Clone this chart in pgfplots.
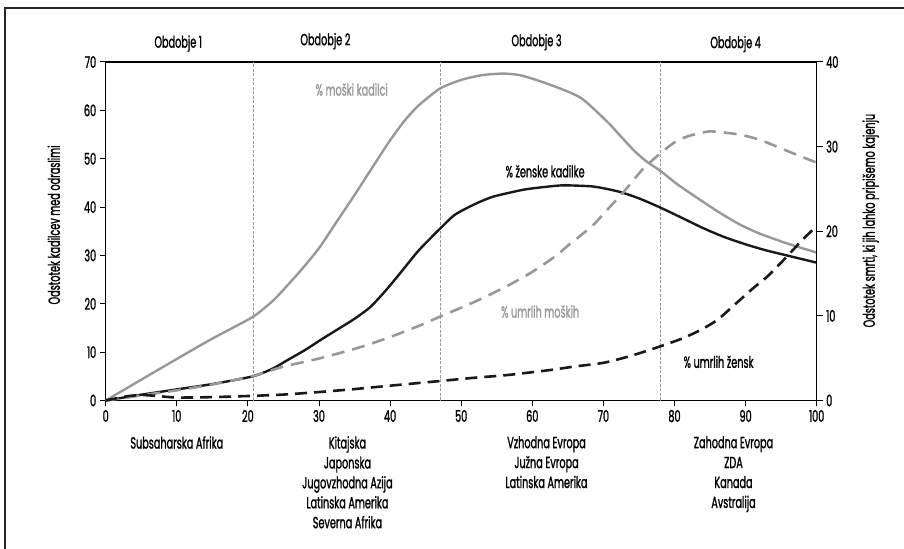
\documentclass[border=0pt]{standalone}
\usepackage{pgfplots}
\pgfplotsset{compat=1.18}
\usepackage{pgfplotstable}
\usepackage{fontspec}
\setmainfont[FakeStretch=0.6, FakeBold=1.2]{Poppins}
\definecolor{lg}{RGB}{152,152,152}
\newcommand\f{\fontsize{16.2}{20}\selectfont}

\pgfplotstableread{
x y
0 0
5 4.3
10 8.6
15 12.8
20.7 17.3
23.5 20.6
25 22.9
27.5 27
30 31.5
32.5 37.0
35 42.5
37.5 48.2
40 53.8
42 57.8
44 61
47 64.5
50 66.3
53 67.3
56 67.6
58.5 67.2
62.5 65.3
66.8 62.6
70.5 57.7
72.4 54.7
74.3 51.7
76 49.5
78 47.5
80.5 44.6
83.6 41.5
86.5 38.7
89.3 36.3
92 34.5
95 32.9
97.5 31.7
100 30.6
}\malesmk

\pgfplotstableread{
x y
0 0
5 1.2
10 2.3
15 3.4
20.7 5.0
23.5 6.6
25.5 8.3
28 10.4
30.2 12.5
32.5 14.6
35 16.9
37.2 19.3
39.3 22.6
41.4 26.3
44 31
47 35.5
49 38.3
50.8 39.8
52.5 41
54.6 42.2
58.8 43.6
62 44.2
64.4 44.5
68.2 44.3
70 43.9
72.4 43.1
75 41.8
78 39.9
81 37.8
84.1 35.6
87 33.8
90.2 32.2
93 31
95.8 30.0
100 28.5
}\femsmk

\pgfplotstableread{
x y
0 0
5 0.6
10 1.2
15 1.9
20.7 2.9
25 4.0
30.2 5.0
35.8 6.3
40 7.5
44 8.8
47 9.9
52 11.7
56.4 13.5
60 15.2
63.5 17.2
65 18.3
68.4 20.6
70.5 22.5
72.9 24.7
75.5 27.3
78 29.2
80 30.5
81.8 31.2
85 31.8
89.3 31.4
92 30.8
94.4 30.0
97 29.1
100 28.1
}\maledeath

\pgfplotstableread{
x y
0 0
3 0.5
5 0.65
7 0.55
10 0.35
15 0.4
20.7 0.55
25 0.7
30 1.0
35 1.35
40 1.75
47 2.3
52 2.7
56.4 3.0
62.5 3.6
65.8 4.0
70 4.45
72.9 5.05
75.5 5.7
78 6.4
81 7.3
83.6 8.3
86 9.5
88.3 11.2
91.1 13.3
93 14.6
95.8 17.0
98 19.0
100 20.6
}\femdeath

\begin{document}
\begin{tikzpicture}
\path[use as bounding box] (0,0) rectangle (904bp,549bp);
\draw[line width=1.3bp, black!85] (5bp,0) -- (5bp,541bp) -- (904bp,541bp);
\begin{axis}[
  at={(105.7bp,148.5bp)}, anchor=south west,
  scale only axis, width=711bp, height=338.5bp,
  xmin=0, xmax=100, ymin=0, ymax=70,
  xtick={0,10,...,100}, ytick={0,10,...,70},
  tick align=outside, major tick length=6bp,
  xtick pos=left, ytick pos=left,
  axis line style={line width=1.2bp},
  tick style={line width=1bp, black},
  ticklabel style={font=\f},
  /pgf/number format/assume math mode=true,
  clip=false,
]
\draw[lg, line width=0.7bp, dash pattern=on 3bp off 1.5bp] (axis cs:20.7,0) -- (axis cs:20.7,70);
\draw[lg, line width=0.7bp, dash pattern=on 3bp off 1.5bp] (axis cs:47,0) -- (axis cs:47,70);
\draw[lg, line width=0.7bp, dash pattern=on 3bp off 1.5bp] (axis cs:78,0) -- (axis cs:78,70);
\addplot[lg, line width=2.4bp, smooth, tension=0.4] table {\malesmk};
\addplot[black!90, line width=2.4bp, smooth, tension=0.4] table {\femsmk};
\node[font=\f] at (axis cs:10.2,73.8) {Obdobje 1};
\node[font=\f] at (axis cs:30.9,74.3) {Obdobje 2};
\node[font=\f] at (axis cs:60.6,74.1) {Obdobje 3};
\node[font=\f] at (axis cs:88.6,73.7) {Obdobje 4};
\node[font=\f, text=lg] at (axis cs:34.6,64.3) {\% moški kadilci};
\node[font=\f] at (axis cs:61.8,47.4) {\% ženske kadilke};
\node[font=\f, text=lg] at (axis cs:61.1,18.4) {\% umrlih moških};
\node[font=\f] at (axis cs:86.2,8.0) {\% umrlih žensk};
\node[font=\f, rotate=90] at (axis cs:-7.3,36.3) {Odstotek kadilcev med odraslimi};
\node[font=\f, rotate=90] at (axis cs:107.6,37.2) {Odstotek smrti, ki jih lahko pripišemo kajenju};
\node[font=\f, anchor=north, align=center, inner sep=0pt] at (axis cs:10,-7.35) {Subsaharska Afrika};
\node[font=\f, anchor=north, align=center, inner sep=0pt] at (axis cs:34,-7.35) {Kitajska\\Japonska\\Jugovzhodna Azija\\Latinska Amerika\\Severna Afrika};
\node[font=\f, anchor=north, align=center, inner sep=0pt] at (axis cs:62,-7.35) {Vzhodna Evropa\\Južna Evropa\\Latinska Amerika};
\node[font=\f, anchor=north, align=center, inner sep=0pt] at (axis cs:88.3,-7.35) {Zahodna Evropa\\ZDA\\Kanada\\Avstralija};
\end{axis}
\begin{axis}[
  at={(105.7bp,148.5bp)}, anchor=south west,
  scale only axis, width=711bp, height=338.5bp,
  xmin=0, xmax=100, ymin=0, ymax=40,
  axis x line=none, axis y line*=right,
  ytick={0,10,...,40},
  tick align=outside, major tick length=6bp,
  axis line style={line width=1.2bp, -},
  tick style={line width=1bp, black},
  ticklabel style={font=\f},
  /pgf/number format/assume math mode=true,
  clip=false,
]
\addplot[lg, line width=2.6bp, smooth, tension=0.4, dash pattern=on 13bp off 8bp] table {\maledeath};
\addplot[black!90, line width=2.6bp, smooth, tension=0.4, dash pattern=on 12bp off 7bp] table {\femdeath};
\end{axis}
\end{tikzpicture}
\end{document}
